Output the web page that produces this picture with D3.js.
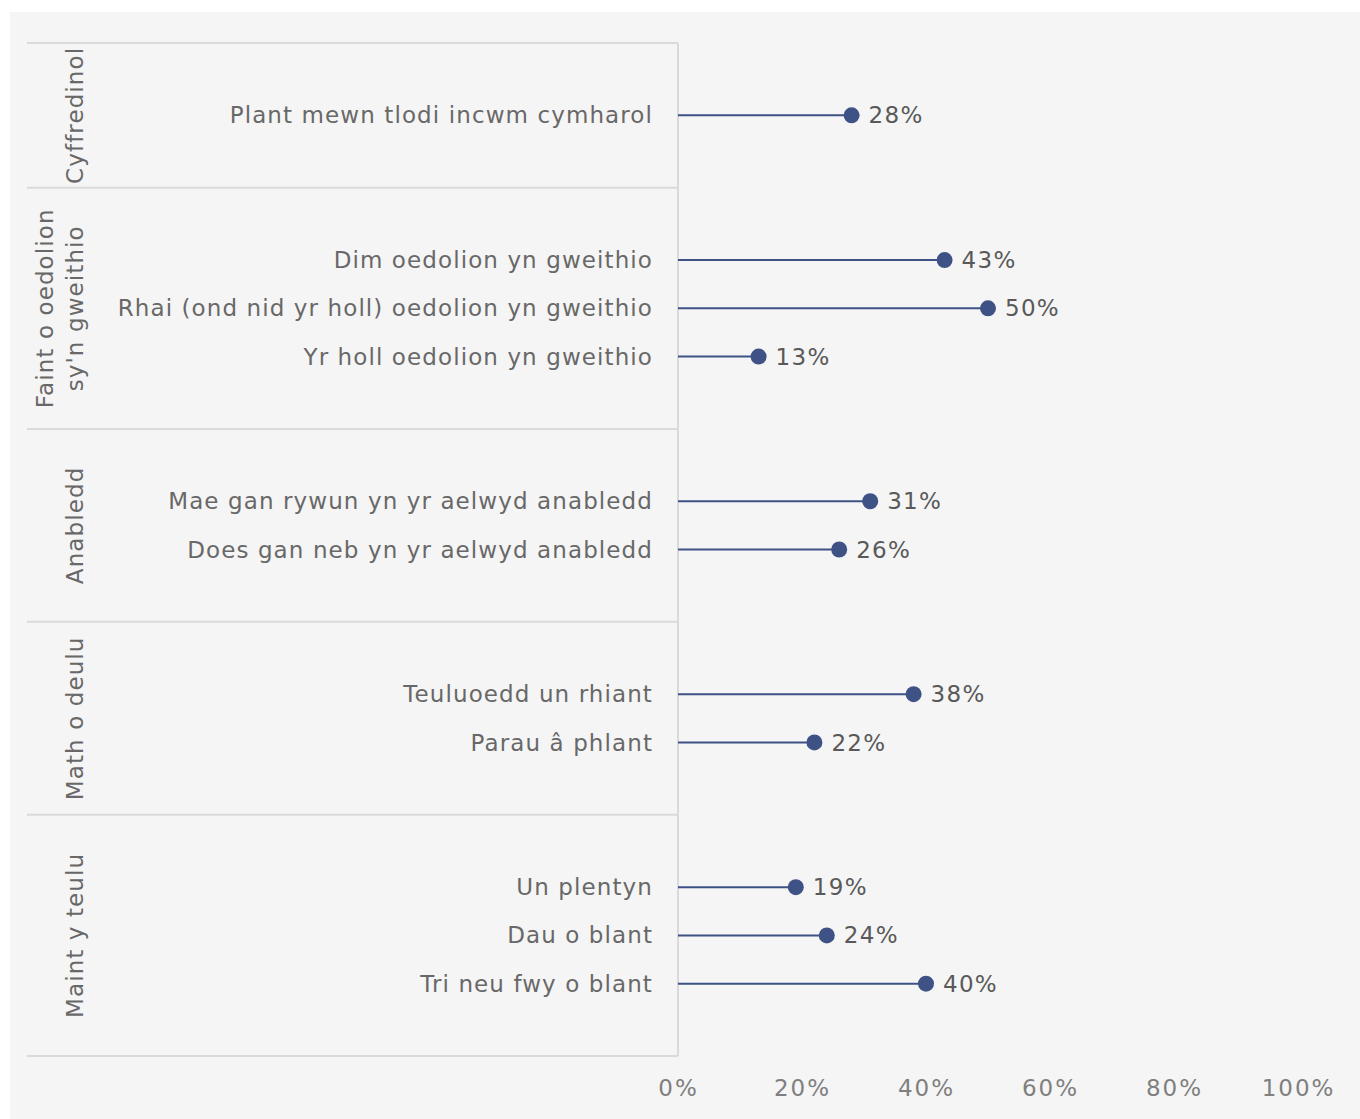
<!DOCTYPE html>
<html>
<head>
<meta charset="utf-8">
<script src="https://cdn.jsdelivr.net/npm/d3@7"></script>
<style>
  body { margin: 0; background: #ffffff; }
  svg { display: block; }
</style>
</head>
<body>
<div id="chart-container"></div>
<script>
// Data
const groupNames = [
  ["Cyffredinol"],
  ["Faint o oedolion", "sy'n gweithio"],
  ["Anabledd"],
  ["Math o deulu"],
  ["Maint y teulu"]
];
const categories = [
  "Plant mewn tlodi incwm cymharol",
  "Dim oedolion yn gweithio",
  "Rhai (ond nid yr holl) oedolion yn gweithio",
  "Yr holl oedolion yn gweithio",
  "Mae gan rywun yn yr aelwyd anabledd",
  "Does gan neb yn yr aelwyd anabledd",
  "Teuluoedd un rhiant",
  "Parau â phlant",
  "Un plentyn",
  "Dau o blant",
  "Tri neu fwy o blant"
];
const groupOf = [0, 1, 1, 1, 2, 2, 3, 3, 4, 4, 4];
const values = [0.28, 0.43, 0.50, 0.13, 0.31, 0.26, 0.38, 0.22, 0.19, 0.24, 0.40];
const tickValues = [0, 0.2, 0.4, 0.6, 0.8, 1];

const width = 1360;
const height = 1119;
const font = "'DejaVu Sans', Verdana, sans-serif";
const lineColor = "#3e5286";
const labelColor = "#686868";
const valueColor = "#595959";
const gridColor = "#dadada";

// Slots: one blank band above and below each group's rows
const slots = [];
groupNames.forEach((g, gi) => {
  slots.push("top" + gi);
  categories.forEach((c, i) => { if (groupOf[i] === gi) slots.push("c" + i); });
  slots.push("bot" + gi);
});

const x = d3.scaleLinear().domain([0, 1]).range([678, 1298]);
const y = d3.scaleBand().domain(slots).range([43, 1056]);
const yc = i => y("c" + i) + y.bandwidth() / 2;

const svg = d3.create("svg")
    .attr("width", width)
    .attr("height", height)
    .style("font-family", font);

// panel background
svg.append("rect")
    .attr("x", 10).attr("y", 12)
    .attr("width", width - 10).attr("height", height - 12)
    .attr("fill", "#f5f5f5");

// group separators
const bounds = [y("top0")].concat(groupNames.map((g, gi) => y("bot" + gi) + y.bandwidth()));
svg.append("g")
  .selectAll("line")
  .data(bounds)
  .join("line")
    .attr("x1", 27).attr("x2", x(0))
    .attr("y1", d => d).attr("y2", d => d)
    .attr("stroke", gridColor)
    .attr("stroke-width", 2);

svg.append("line")
    .attr("x1", x(0)).attr("x2", x(0))
    .attr("y1", bounds[0]).attr("y2", bounds[bounds.length - 1])
    .attr("stroke", gridColor)
    .attr("stroke-width", 2);

// group labels (rotated)
groupNames.forEach((lines, gi) => {
  const cy = (y("top" + gi) + y("bot" + gi) + y.bandwidth()) / 2;
  const t = svg.append("text")
      .attr("transform", `translate(75,${cy}) rotate(-90)`)
      .attr("text-anchor", "middle")
      .attr("fill", labelColor)
      .style("font-size", "23px")
      .style("letter-spacing", "1.1px");
  lines.forEach((ln, k) => {
    t.append("tspan")
        .attr("x", 0)
        .attr("y", (k - (lines.length - 1)) * 30 + 8)
        .text(ln);
  });
});

// category labels
svg.append("g")
    .attr("text-anchor", "end")
    .attr("fill", labelColor)
    .style("font-size", "23px")
    .style("letter-spacing", "1.1px")
  .selectAll("text")
  .data(categories)
  .join("text")
    .attr("x", 653)
    .attr("y", (d, i) => yc(i))
    .attr("dy", "0.35em")
    .text(d => d);

// lollipops
const marks = svg.append("g")
  .selectAll("g")
  .data(values)
  .join("g");

marks.append("line")
    .attr("x1", x(0))
    .attr("x2", d => x(d))
    .attr("y1", (d, i) => yc(i))
    .attr("y2", (d, i) => yc(i))
    .attr("stroke", lineColor)
    .attr("stroke-width", 2);

marks.append("circle")
    .attr("cx", d => x(d))
    .attr("cy", (d, i) => yc(i))
    .attr("r", 8)
    .attr("fill", lineColor);

marks.append("text")
    .attr("x", d => x(d) + 17)
    .attr("y", (d, i) => yc(i))
    .attr("dy", "0.35em")
    .attr("fill", valueColor)
    .style("font-size", "23px")
    .style("letter-spacing", "1.3px")
    .text(d => d3.format(".0%")(d));

// x axis
const axis = svg.append("g")
    .attr("transform", "translate(0,1076)")
    .call(d3.axisBottom(x).tickValues(tickValues).tickFormat(d3.format(".0%")).tickSize(0).tickPadding(4));
axis.select(".domain").remove();
axis.selectAll("text")
    .attr("fill", "#7f7f7f")
    .style("font-family", font)
    .style("font-size", "23px")
    .style("letter-spacing", "2px");

document.getElementById("chart-container").appendChild(svg.node());
</script>
</body>
</html>
